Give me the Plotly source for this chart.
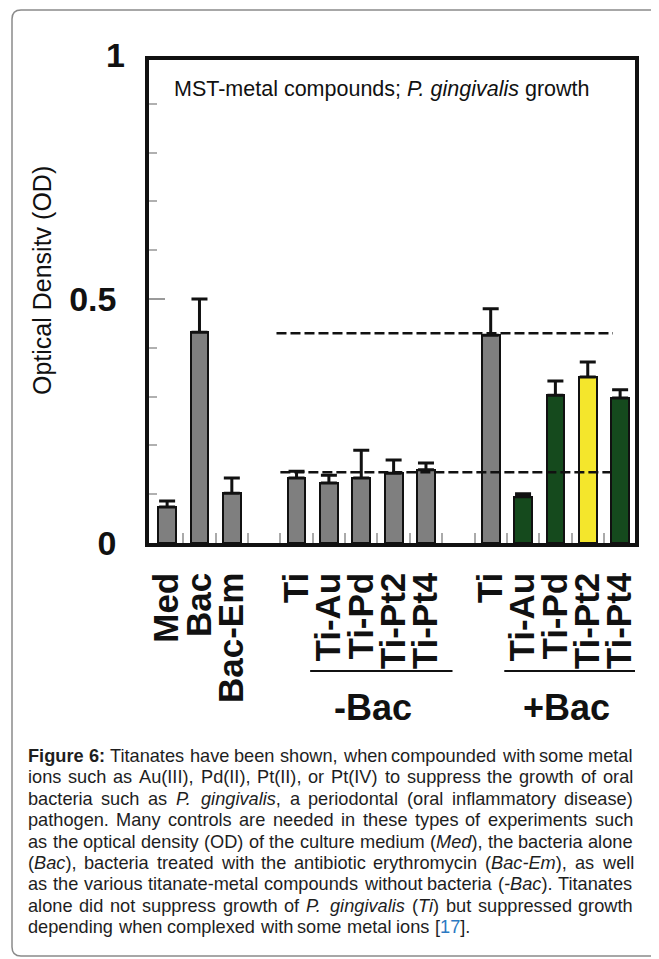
import re
import plotly.graph_objects as go

# ---------------- data ----------------
control_labels = ["Med", "Bac", "Bac-Em"]
control_values = [0.074, 0.432, 0.102]
control_errors = [0.012, 0.068, 0.031]

minus_labels = ["Ti", "Ti-Au", "Ti-Pd", "Ti-Pt2", "Ti-Pt4"]
minus_values = [0.133, 0.123, 0.133, 0.143, 0.150]
minus_errors = [0.014, 0.016, 0.057, 0.027, 0.014]

plus_labels = ["Ti", "Ti-Au", "Ti-Pd", "Ti-Pt2", "Ti-Pt4"]
plus_values = [0.426, 0.095, 0.303, 0.340, 0.297]
plus_errors = [0.054, 0.006, 0.029, 0.031, 0.017]

reference_levels = [0.43, 0.145]
y_tick_values = [0, 0.5, 1]
y_tick_labels = ["0", "0.5", "1"]
group_names = ["-Bac", "+Bac"]

# ---------------- styles ----------------
GRAY = "#7f7f7f"
GREEN = "#154a1d"
YELLOW = "#f4e62c"
INK = "#111111"
control_colors = [GRAY] * 3
minus_colors = [GRAY] * 5
plus_colors = [GRAY, GREEN, GREEN, YELLOW, GREEN]

OFF = 8                      # page body margin of the browser
FIG_W, FIG_H = 659 - OFF, 959 - OFF
PL, PR, PT, PB = 149, 635, 60, 543   # plot box in page pixels
Y_MAX = 0.99
FONT = "Liberation Sans, Arial, sans-serif"


def px(x):
    return (x - PL) / (PR - PL)


def py(y):
    return (PB - y) / (PB - PT)


groups = [
    (control_labels, control_values, control_errors, control_colors),
    (minus_labels, minus_values, minus_errors, minus_colors),
    (plus_labels, plus_values, plus_errors, plus_colors),
]
xs, labels, vals, errs, cols, group_slots = [], [], [], [], [], []
slot = 0
for lab, val, err, col in groups:
    s = []
    for l, v, e, c in zip(lab, val, err, col):
        xs.append(slot)
        labels.append(l)
        vals.append(v)
        errs.append(e)
        cols.append(c)
        s.append(slot)
        slot += 1
    group_slots.append(s)
    slot += 1
last_slot = xs[-1]

fig = go.Figure()
fig.add_trace(go.Bar(
    x=xs, y=vals, width=0.55,
    marker=dict(color=cols, line=dict(color=INK, width=2)),
    error_y=dict(type="data", symmetric=False, array=errs,
                 arrayminus=[0] * len(errs), color=INK, thickness=3, width=8),
    showlegend=False, hoverinfo="skip",
))

shapes = []
first_t = group_slots[1][0]
last_t = group_slots[2][-1]
for lvl, (a, b) in zip(reference_levels, [(-0.62, -0.22), (-0.5, -0.3)]):
    shapes.append(dict(type="line", xref="x", yref="y",
                       x0=first_t + a, x1=last_t + b, y0=lvl, y1=lvl,
                       line=dict(color=INK, width=2.5, dash="10px,4px")))

annotations = []
for name, s in zip(group_names, group_slots[1:]):
    x0, x1 = s[0] + 0.42, s[-1] + 0.82
    shapes.append(dict(type="line", xref="x", yref="paper", x0=x0, x1=x1,
                       y0=py(671), y1=py(671), line=dict(color=INK, width=2)))
    annotations.append(dict(text="<b>%s</b>" % name, xref="x", yref="paper",
                            x=(s[0] + s[-1]) / 2 + 0.35, y=py(708),
                            xanchor="center", yanchor="middle", showarrow=False,
                            font=dict(family=FONT, size=36, color=INK)))

# outer rounded frame (cropped on the right)
L, T, B, R, r = 12, 10, 956, 720, 9
pts = [("M", R, T), ("L", L + r, T), ("Q", L, T), ("", L, T + r), ("L", L, B - r),
       ("Q", L, B), ("", L + r, B), ("L", R, B)]
path = " ".join("%s %.5f,%.5f" % (c, px(x), py(y)) for c, x, y in pts)
shapes.append(dict(type="path", xref="paper", yref="paper", path=path,
                   line=dict(color="#8a8a8a", width=1.5)))

axis_tv, axis_tt = [], []
for v, t in zip(y_tick_values, y_tick_labels):
    if v <= Y_MAX:
        axis_tv.append(v)
        axis_tt.append(t)
    else:
        annotations.append(dict(text="<b>%s</b>" % t, xref="paper", yref="paper",
                                x=px(127), y=v / Y_MAX, xanchor="right",
                                yanchor="middle", showarrow=False,
                                font=dict(family=FONT, size=34, color=INK)))

annotations.append(dict(text="MST-metal compounds; <i>P. gingivalis</i> growth",
                        xref="paper", yref="paper", x=px(172), y=py(89),
                        xanchor="left", yanchor="middle", showarrow=False,
                        font=dict(family=FONT, size=21.5, color=INK)))
annotations.append(dict(text="Optical Densitv (OD)", textangle=-90,
                        xref="paper", yref="paper", x=px(42), y=py(281),
                        xanchor="center", yanchor="middle", showarrow=False,
                        font=dict(family=FONT, size=25, color=INK)))

# ---------------- justified caption ----------------
caption_lines = [
    "<b>Figure 6:</b> Titanates have been shown, when compounded with some metal",
    "ions such as Au(III), Pd(II), Pt(II), or Pt(IV) to suppress the growth of oral",
    "bacteria such as <i>P. gingivalis</i>, a periodontal (oral inflammatory disease)",
    "pathogen. Many controls are needed in these types of experiments such",
    "as the optical density (OD) of the culture medium (<i>Med</i>), the bacteria alone",
    "(<i>Bac</i>), bacteria treated with the antibiotic erythromycin (<i>Bac-Em</i>), as well",
    "as the various titanate-metal compounds without bacteria (<i>-Bac</i>). Titanates",
    "alone did not suppress growth of <i>P. gingivalis</i> (<i>Ti</i>) but suppressed growth",
    "depending when complexed with some metal ions [{17}].",
]

AW = {" ": 278, "(": 333, ")": 333, ",": 278, "-": 333, ".": 278, ":": 278, ";": 278,
      "[": 278, "]": 278, "{": 0, "}": 0}
for ch in "0123456789":
    AW[ch] = 556
AW.update(dict(A=667, B=667, C=722, D=722, E=667, F=611, G=778, H=722, I=278, J=500,
               K=667, L=556, M=833, N=722, O=778, P=667, Q=778, R=722, S=667, T=611,
               U=722, V=667, W=944, X=667, Y=667, Z=611))
AW.update(dict(a=556, b=556, c=500, d=556, e=556, f=278, g=556, h=556, i=222, j=222,
               k=500, l=222, m=833, n=556, o=556, p=556, q=556, r=333, s=500, t=278,
               u=556, v=500, w=722, x=500, y=500, z=500))
AWB = dict(AW)
AWB.update({"F": 611, "i": 278, "g": 611, "u": 611, "r": 389, "e": 556, ":": 333})


def plain(w):
    return re.sub(r"<[^>]+>", "", w)


def em_width(w, bold=False):
    tbl = AWB if bold else AW
    return sum(tbl.get(ch, 556) for ch in plain(w)) / 1000.0


def balance(words):
    open_tags, out = [], []
    for w in words:
        prefix = "".join("<%s>" % t for t in open_tags)
        for m in re.finditer(r"<(/?)(\w+)[^>]*>", w):
            if m.group(1):
                if m.group(2) in open_tags:
                    open_tags.remove(m.group(2))
            else:
                open_tags.append(m.group(2))
        suffix = "".join("</%s>" % t for t in reversed(open_tags))
        out.append(prefix + w + suffix)
    return out


CAP_X0, CAP_X1 = 27, 632
CAP_Y0, CAP_DY = 756, 21.4
line_words = [balance(l.split(" ")) for l in caption_lines]
nat = []
for words in line_words:
    ws = [em_width(w, w.startswith("<b>")) for w in words]
    nat.append(sum(ws) + 0.278 * (len(words) - 1))
cap_fs = (CAP_X1 - CAP_X0) / max(nat[:-1])

for i, words in enumerate(line_words):
    ws = [em_width(w, w.startswith("<b>")) * cap_fs for w in words]
    if i < len(line_words) - 1:
        gap = (CAP_X1 - CAP_X0 - sum(ws)) / (len(words) - 1)
    else:
        gap = 0.278 * cap_fs
    x = CAP_X0
    y = CAP_Y0 + i * CAP_DY
    for w, wd in zip(words, ws):
        txt = w.replace("{17}", "<span style='color:#2b78c2'>17</span>")
        annotations.append(dict(text=txt, xref="paper", yref="paper",
                                x=px(x - 1), y=py(y), xanchor="left",
                                yanchor="middle", showarrow=False,
                                font=dict(family=FONT, size=cap_fs, color="#1e1e1e")))
        x += wd + gap

minor_x = [s + 0.5 for s in range(last_slot)]

fig.update_layout(
    width=FIG_W, height=FIG_H,
    margin=dict(l=PL - OFF, r=FIG_W - (PR - OFF), t=PT - OFF, b=FIG_H - (PB - OFF),
                autoexpand=False),
    paper_bgcolor="white", plot_bgcolor="white",
    font=dict(family=FONT, color=INK),
    shapes=shapes, annotations=annotations,
    bargap=0,
    xaxis=dict(range=[-0.56, last_slot + 0.46], tickmode="array", tickvals=xs,
               ticktext=labels, tickangle=-90, ticks="",
               tickfont=dict(family=FONT, size=35, color=INK, weight="bold"),
               ticklabelstandoff=12,
               showline=True, linecolor=INK, linewidth=3.5, mirror=True,
               showgrid=False, zeroline=False, automargin=False,
               minor=dict(tickmode="array", tickvals=minor_x, ticks="inside",
                          ticklen=10, tickcolor="#aaaaaa", tickwidth=2)),
    yaxis=dict(range=[0, Y_MAX], tickmode="array", tickvals=axis_tv,
               ticktext=axis_tt, ticks="inside", ticklen=16,
               tickcolor="#9a9a9a", tickwidth=2,
               tickfont=dict(family=FONT, size=34, color=INK, weight="bold"),
               ticklabelstandoff=22,
               showline=True, linecolor=INK, linewidth=3.5, mirror=True,
               showgrid=False, zeroline=False, automargin=False,
               minor=dict(dtick=0.1, tick0=0, ticks="inside", ticklen=8,
                          tickcolor="#b0b0b0", tickwidth=1.5)),
)

fig.write_html("out.html")
